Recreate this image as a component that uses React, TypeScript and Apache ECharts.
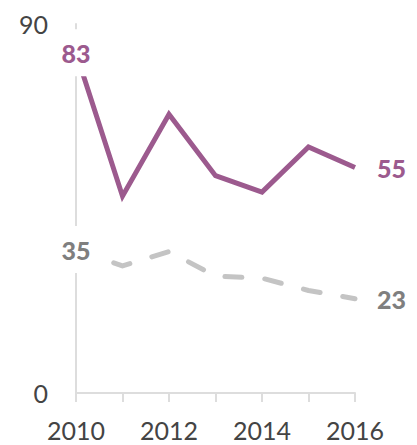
import React, { useEffect, useRef } from "react";
import * as echarts from "echarts";

const years = ["2010", "2011", "2012", "2013", "2014", "2015", "2016"];
const purpleValues = [83, 48, 68, 53, 49, 60, 55];
const greyValues = [35, 31, 34.5, 28.5, 28, 25, 23];
const yMin = 0;
const yMax = 90;

const PURPLE = "#9c5a8e";
const GREY_LINE = "#c4c4c4";
const GREY_LABEL = "#7f7f7f";
const FONT = "Lato";

function withLabels(values: number[], color: string) {
  const last = values.length - 1;
  return values.map((v, i) => {
    if (i === 0) {
      return {
        value: v,
        label: {
          show: true,
          position: "inside",
          color,
          fontFamily: FONT,
          fontWeight: 900,
          fontSize: 25,
          lineHeight: 25,
          backgroundColor: "#ffffff",
          padding: [11, 8, 11, 8],
          formatter: "{c}",
        },
      };
    }
    if (i === last) {
      return {
        value: v,
        label: {
          show: true,
          position: "right",
          distance: 22,
          color,
          fontFamily: FONT,
          fontWeight: 900,
          fontSize: 25,
          formatter: "{c}",
        },
      };
    }
    return v;
  });
}

export default function App() {
  const ref = useRef<HTMLDivElement>(null);
  useEffect(() => {
    document.body.style.margin = "0";
    if (!ref.current) return;
    const chart = echarts.init(ref.current, undefined, { renderer: "svg" });
    chart.setOption({
      animation: false,
      backgroundColor: "#fff",
      grid: { left: 76, right: 62, top: 24, bottom: 52, containLabel: false },
      xAxis: {
        type: "category",
        data: years,
        boundaryGap: false,
        axisLine: { show: true, lineStyle: { color: "#dddddd", width: 2 } },
        axisTick: { show: true, interval: 0, length: 9, lineStyle: { color: "#dddddd", width: 2 } },
        axisLabel: {
          interval: 1,
          color: "#444",
          fontFamily: FONT,
          fontSize: 25,
          margin: 24,
        },
        splitLine: { show: false },
      },
      yAxis: {
        type: "value",
        min: yMin,
        max: yMax,
        interval: 90,
        axisLine: { show: true, lineStyle: { color: "#dddddd", width: 2 } },
        axisTick: { show: false },
        axisLabel: {
          color: "#444",
          fontFamily: FONT,
          fontSize: 25,
          margin: 28,
        },
        splitLine: { show: false },
      },
      series: [
        {
          type: "line",
          data: withLabels(greyValues, GREY_LABEL),
          symbol: "circle",
          symbolSize: 0,
          lineStyle: { color: GREY_LINE, width: 5, type: [17, 23], cap: "round", join: "round" },
          itemStyle: { color: GREY_LINE },
          z: 2,
        },
        {
          type: "line",
          data: withLabels(purpleValues, PURPLE),
          symbol: "circle",
          symbolSize: 0,
          lineStyle: { color: PURPLE, width: 5, join: "miter" },
          itemStyle: { color: PURPLE },
          z: 3,
        },
      ],
    });
    return () => chart.dispose();
  }, []);
  return <div ref={ref} style={{ width: 417, height: 445 }} />;
}
